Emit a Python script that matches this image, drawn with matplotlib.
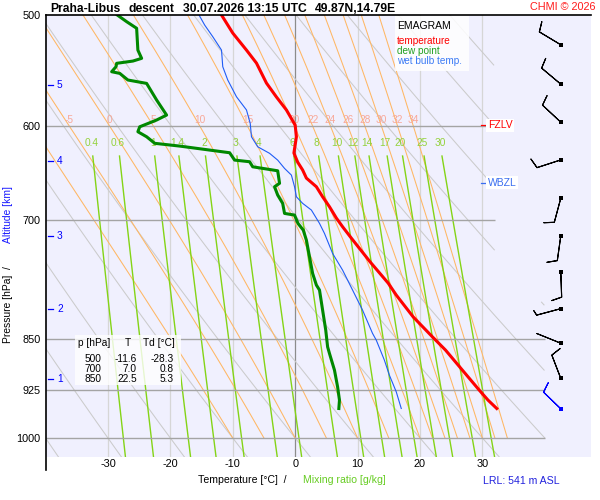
import numpy as np
import matplotlib
matplotlib.use("Agg")
import matplotlib.pyplot as plt
from matplotlib.patches import Rectangle

plt.rcParams['font.family'] = ['Liberation Sans', 'DejaVu Sans']
plt.rcParams['axes.unicode_minus'] = False

# sounding: temperature, dew point, wet bulb  (hPa, degC)
temp_p = [500, 515, 529.6, 541, 559, 571.9, 584.2, 598.8, 610.4, 626.9, 636.3, 644.6, 653.2,
          662.5, 673.5, 684.6, 697.4, 707.4, 720.7, 749.2, 775.8, 791.2, 819.9, 847.3, 865.9,
          894.8, 924.6, 939.8, 952.8]
temp_t = [-11.8, -10.0, -7.8, -6.2, -4.6, -3.0, -1.4, 0.0, 0.2, -0.2, 0.4, 1.2, 1.8,
          3.4, 4.4, 5.5, 6.6, 7.6, 9.0, 12.0, 14.9, 16.2, 18.9, 22.0, 24.1,
          26.8, 29.5, 30.9, 32.3]

dew_p = [500, 505.5, 511.0, 529.6, 536.8, 539.2, 541.2, 544.2, 548.7, 550.2, 556.2, 559.3,
         574.7, 589.1, 593.9, 600.5, 605.4, 610.4, 617.0, 619.8, 626.6, 634.2, 635.9, 641.2,
         645.4, 658.8, 662.5, 671.6, 680.8, 692.1, 694.0, 703.5, 711.3, 723.1, 743.1, 763.6,
         778.3, 784.7, 811.0, 838.0, 861.3, 870.7, 894.8, 919.6, 939.8, 952.8]
dew_t = [-28.5, -27.0, -25.4, -25.2, -24.6, -26.0, -28.6, -28.7, -29.4, -28.1, -26.8, -23.8,
         -22.2, -20.6, -22.2, -24.9, -25.2, -23.8, -22.5, -18.5, -10.5, -9.7, -7.3, -6.8,
         -2.8, -2.5, -3.3, -2.8, -2.0, -1.7, -0.1, 0.45, 1.3, 1.8, 2.3, 2.8,
         3.4, 3.9, 4.4, 4.9, 5.2, 5.5, 6.3, 6.8, 7.1, 7.0]

wet_p = [500, 508.3, 518.1, 529.6, 544.2, 556.2, 571.7, 584.2, 597.1, 610.4, 620.5, 627.2,
         634.2, 642.9, 650.0, 662.5, 673.5, 680.8, 688.3, 703.5, 715.2, 739.0, 759.5, 784.7,
         811.0, 842.5, 851.9, 880.3, 902.2, 927.2, 952.8]
wet_t = [-15.4, -14.5, -13.2, -11.8, -11.6, -10.8, -9.4, -7.8, -7.2, -7.0, -6.0, -4.1,
         -2.8, -1.7, -0.6, -0.1, 0.2, 1.2, 2.6, 3.9, 4.7, 6.0, 7.6, 9.2,
         10.8, 12.4, 13.0, 14.3, 15.1, 16.2, 17.0]

# altitude marks (km) and the pressure where they sit
alt_km = [1, 2, 3, 4, 5]
alt_p = [908, 810, 718, 635, 561]

# wind (direction deg, speed kt)
wind_p = [954, 907, 856, 809, 762, 718, 675, 634, 596, 560, 525]
wind_dir = [314, 339, 292, 255, 178, 188, 195, 252, 313, 310, 301]
wind_spd = [10, 10, 3, 5, 10, 10, 10, 10, 10, 10, 10]

# table
tab_p = [500, 700, 850]
tab_t = [-11.6, 7.0, 22.5]
tab_td = [-28.3, 0.8, 5.3]

fzlv_p = 599
wbzl_p = 658

# background grid values
isotherms = [-30, -20, -10, 0, 10, 20, 30]
isobars = [600, 700, 850, 925, 1000]
dry_theta = list(range(-40, 100, 10))
moist_theta = [-10, -5, 0, 5, 10, 15, 20, 22, 24, 26, 28, 30, 32, 34]
mix_ratios = [0.4, 0.6, 1, 1.4, 2, 3, 4, 6, 8, 10, 12, 14, 17, 20, 25, 30]

PBOT, PTOP = 1031.6, 500
TMIN, TMAX = -40, 47.4


def es(tc):
    return 6.112 * np.exp(17.67 * tc / (tc + 243.5))


def moist_adiabat(t0, p):
    Rd, cp, Lv, eps = 287.04, 1005.7, 2.501e6, 0.622

    def f(pp, tk):
        e = es(tk - 273.15)
        rs = eps * e / (pp - e)
        return (Rd * tk + Lv * rs) / (pp * (cp + Lv ** 2 * rs * eps / (Rd * tk ** 2)))
    out = [t0 + 273.15]
    for i in range(1, len(p)):
        h = p[i] - p[i - 1]
        tk = out[-1]
        k1 = f(p[i - 1], tk)
        k2 = f(p[i - 1] + h / 2, tk + h / 2 * k1)
        k3 = f(p[i - 1] + h / 2, tk + h / 2 * k2)
        k4 = f(p[i], tk + h * k3)
        out.append(tk + h / 6 * (k1 + 2 * k2 + 2 * k3 + k4))
    return np.array(out) - 273.15


def clip_right(t, p):
    lim = np.where(p < 800, 32, 40)
    return np.where(t > lim, np.nan, t)


def mix_temp(w, p):
    e = w * p / (622 + w)
    a = np.log(e / 6.112)
    return 243.5 * a / (17.67 - a)


fig = plt.figure(figsize=(6, 5), dpi=100)
fig.patch.set_facecolor('white')
ax = fig.add_axes([45.5 / 600, 1 - 457 / 500, (591 - 45.5) / 600, (457 - 15) / 500])
ax.set_facecolor('#f0f0fe')
ax.set_yscale('log')
ax.set_xlim(TMIN, TMAX)
ax.set_ylim(PBOT, PTOP)
for s in ax.spines.values():
    s.set_visible(False)

# isotherms
for t in isotherms:
    ax.axvline(t, color='#8c8c8c' if t == 0 else '#d6d6d6', lw=0.9, zorder=1)

# dry adiabats
pp = np.linspace(PTOP, PBOT, 300)
for th in dry_theta:
    t = (th + 273.15) * (pp / 1000) ** 0.2857 - 273.15
    ax.plot(clip_right(t, pp), pp, color='#cbcbcb', lw=0.75, zorder=1)

# saturated adiabats
pm = np.linspace(1000, PTOP, 251)
for th in moist_theta:
    t = moist_adiabat(th, pm)
    ax.plot(clip_right(t, pm), pm, color='#ffb764', lw=0.75, zorder=1)
    if th >= -5:
        tl = np.interp(-600, -pm, t)
        ax.text(tl, 594, f'{th}', color='#f8a898', fontsize=7.3, ha='center', va='center', zorder=2)

# mixing ratio lines
pw = np.linspace(630, PBOT, 50)
for w in mix_ratios:
    ax.plot(mix_temp(w, pw), pw, color='#84d416', lw=1.0, zorder=1.5)
    ax.text(mix_temp(w, 617), 617, f'{w:g}', color='#94d23c', fontsize=7.3,
            ha='center', va='center', zorder=2)

# isobars
for p in isobars:
    ax.hlines(p, TMIN, 32 if p < 800 else 40, color='#a4a4a4', lw=1.0, zorder=1.6)

# profiles
ax.plot(wet_t, wet_p, color='#1f5cf5', lw=0.8, zorder=3)
ax.plot(dew_t, dew_p, color='#008800', lw=2.2, zorder=3)
ax.plot(temp_t, temp_p, color='#ff0000', lw=2.2, zorder=3)

# wind barbs
wx = 42.56
d = np.radians(wind_dir)
u = -np.array(wind_spd) * np.sin(d)
v = -np.array(wind_spd) * np.cos(d)
wp = np.array(wind_p)
spd = np.array(wind_spd)
normal = (spd >= 5) & (np.arange(len(wp)) > 0)
calm = spd < 5
sz = dict(spacing=0, height=0.4)
ax.barbs(np.full(normal.sum(), wx), wp[normal], u[normal], v[normal], length=6,
         sizes=sz, color='k', lw=0.8, zorder=4)
ax.barbs(np.full(calm.sum(), wx), wp[calm], u[calm] * 5 / spd[calm], v[calm] * 5 / spd[calm],
         length=6, sizes=dict(spacing=0, height=0), color='k', lw=0.8, zorder=4)
ax.barbs([wx], wp[:1], u[:1], v[:1], length=6, sizes=sz, color='#0000ff', lw=0.8, zorder=4)
ax.scatter(np.full(len(wp) - 1, wx), wp[1:], marker='s', s=5, color='k', zorder=5, lw=0)
ax.scatter([wx], wp[:1], marker='s', s=5, color='#0000ff', zorder=5, lw=0)

# axes lines
ax.plot([0, 1], [1, 1], transform=ax.transAxes, color='k', lw=1.2, clip_on=False, zorder=6)
ax.plot([0, 0], [1, -13 / 442], transform=ax.transAxes, color='k', lw=1.2, clip_on=False, zorder=6)

ax.set_xticks(isotherms)
ax.set_xticklabels([f'{t}' for t in isotherms])
ax.set_yticks([500] + isobars)
ax.set_yticklabels([f'{p}' for p in [500] + isobars])
ax.yaxis.set_minor_locator(matplotlib.ticker.NullLocator())
ax.tick_params(axis='both', length=0, labelsize=7.8)
ax.tick_params(axis='x', pad=1.5)
ax.tick_params(axis='y', pad=3.5)

# altitude marks
yt = ax.get_yaxis_transform()
for km, p in zip(alt_km, alt_p):
    ax.plot([0.0037, 0.0137], [p, p], transform=yt, color='#0000ff', lw=0.9, zorder=6)
    ax.text(0.021, p, f'{km}', transform=yt, color='#0000ff', fontsize=7.3, va='center', zorder=6)

# freezing levels
ax.plot([0.798, 0.808], [fzlv_p, fzlv_p], transform=yt, color='#ff0000', lw=0.9, zorder=6)
ax.text(0.811, fzlv_p, 'FZLV', transform=yt, color='#ff0000', fontsize=7.5, va='center', zorder=6,
        bbox=dict(boxstyle='square,pad=0.15', fc='white', ec='none'))
ax.plot([0.798, 0.808], [wbzl_p, wbzl_p], transform=yt, color='#3a6ef0', lw=0.9, zorder=6)
ax.text(0.811, wbzl_p, 'WBZL', transform=yt, color='#3a6ef0', fontsize=7.5, va='center', zorder=6,
        bbox=dict(boxstyle='square,pad=0.15', fc='white', ec='none'))


def fx(x):
    return x / 600


def fy(y):
    return 1 - y / 500


# title
for x, s in [(50, 'Praha-Libus'), (128.3, 'descent'), (183.3, '30.07.2026 13:15 UTC'),
             (315, '49.87N,14.79E')]:
    fig.text(fx(x), fy(12), s, fontsize=8.7, fontweight='bold', va='baseline')
fig.text(fx(596), fy(10.5), 'CHMI © 2026', fontsize=7.8, color='#ff1a1a', ha='right', va='baseline')

# legend box
fig.patches.append(Rectangle((fx(395), fy(71)), (469 - 395) / 600, (71 - 16) / 500,
                             transform=fig.transFigure, fc='white', ec='none', alpha=0.85, zorder=1))
fig.text(fx(397.3), fy(29), 'EMAGRAM', fontsize=7.5, va='baseline')
fig.text(fx(397.3), fy(44.5), 'temperature', fontsize=7.2, color='#ff0000', va='baseline')
fig.text(fx(397.3), fy(54.3), 'dew point', fontsize=7.2, color='#22a022', va='baseline')
fig.text(fx(397.3), fy(64), 'wet bulb temp.', fontsize=7.2, color='#3a7af5', va='baseline')

# table box
fig.patches.append(Rectangle((fx(75), fy(385)), (181 - 75) / 600, (385 - 335) / 500,
                             transform=fig.transFigure, fc='white', ec='none', alpha=0.8, zorder=1))
fig.text(fx(77.7), fy(346.5), 'p [hPa]', fontsize=7.3, va='baseline')
fig.text(fx(127.7), fy(346.5), 'T', fontsize=7.3, va='baseline', ha='center')
fig.text(fx(143.3), fy(346.5), 'Td [°C]', fontsize=7.3, va='baseline')
for i, (p, t, td) in enumerate(zip(tab_p, tab_t, tab_td)):
    y = 361.7 + 10 * i
    fig.text(fx(101.7), fy(y), f'{p}', fontsize=7.3, va='baseline', ha='right')
    fig.text(fx(136.7), fy(y), f'{t:.1f}', fontsize=7.3, va='baseline', ha='right')
    fig.text(fx(174), fy(y), f'{td:.1f}', fontsize=7.3, va='baseline', ha='right')

# axis labels
fig.text(fx(197.7), fy(483), 'Temperature [°C]  /', fontsize=7.6, va='baseline')
fig.text(fx(302.7), fy(483), 'Mixing ratio [g/kg]', fontsize=7.6, va='baseline', color='#66cc22')
fig.text(fx(8), fy(343), 'Pressure [hPa]  /', fontsize=7.4, rotation=90, ha='center', va='bottom')
fig.text(fx(8), fy(243), 'Altitude [km]', fontsize=7.4, rotation=90, ha='center', va='bottom',
         color='#1a1aff')
fig.text(fx(482.7), fy(484), 'LRL: 541 m ASL', fontsize=7.6, color='#2222dd', va='baseline')

fig.savefig('out.png', dpi=100)
